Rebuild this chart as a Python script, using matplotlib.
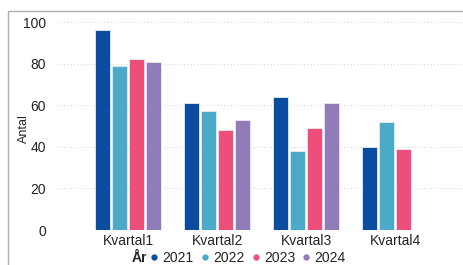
import numpy as np
import matplotlib.pyplot as plt
from matplotlib.lines import Line2D
from matplotlib.patches import Rectangle

plt.rcParams['font.family'] = ['Liberation Sans', 'DejaVu Sans']

quarters = ["Kvartal1", "Kvartal2", "Kvartal3", "Kvartal4"]
years = ["2021", "2022", "2023", "2024"]
v2021 = [96, 61, 64, 40]
v2022 = [79, 57, 38, 52]
v2023 = [82, 48, 49, 39]
v2024 = [81, 53, 61, np.nan]
colors = ["#0a4ca0", "#4aaac8", "#ee4f7a", "#917bb8"]

fig = plt.figure(figsize=(4.63, 2.65), dpi=100)
ax = fig.add_axes([57 / 463, 35 / 265, 406 / 463, 208 / 265])

# frame of the visual
fig.patches.append(Rectangle((8 / 463, -0.1), 1.2, (265 - 10.5) / 265 + 0.1,
                             transform=fig.transFigure, fill=False,
                             edgecolor="#b0b0b0", linewidth=1.0))

x = np.arange(len(quarters))
step = 0.19
width = 0.168
series = [v2021, v2022, v2023, v2024]
for i, (vals, c) in enumerate(zip(series, colors)):
    ax.bar(x + (i - 1.5) * step, vals, width, color=c,
           edgecolor="#e8eaf4", linewidth=0.6, zorder=3)

ax.set_xlim(-0.80, 3.76)
ax.set_ylim(0, 100)
ax.set_yticks([0, 20, 40, 60, 80, 100])
ax.set_xticks(x)
ax.set_xticklabels(quarters)
ax.tick_params(length=0, labelsize=10, colors="#252423")
ax.tick_params(axis="y", pad=8)
ax.tick_params(axis="x", pad=3)
for s in ax.spines.values():
    s.set_visible(False)
ax.yaxis.grid(True, linestyle=(0, (1, 2)), color="#d8d8d8", linewidth=0.8, zorder=0)
ax.axhline(0, color="#c0c0c0", linestyle=(0, (1, 1.5)), linewidth=0.8, zorder=1)
ax.set_ylabel("Antal", fontsize=9, color="#252423")
ax.yaxis.set_label_coords(-27 / 406, 0.49)

handles = [Line2D([], [], marker="o", linestyle="", markersize=3.5, color=c) for c in colors]
fig.text(147 / 463, 1 - 258 / 265, "År", fontsize=10, fontweight="bold",
         ha="right", va="center", color="#252423")
fig.legend(handles, years, loc="center left", bbox_to_anchor=(150 / 463, 1 - 258 / 265),
           ncol=4, frameon=False, fontsize=10, handlelength=0.6, handletextpad=0.3,
           columnspacing=0.5, borderpad=0, borderaxespad=0, labelcolor="#252423")

fig.savefig("out.png", dpi=100)
